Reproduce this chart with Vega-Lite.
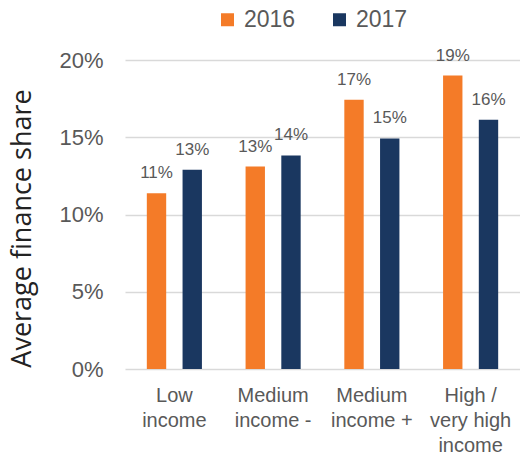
{
  "$schema": "https://vega.github.io/schema/vega-lite/v6.json",
  "autosize": "none",
  "width": 395,
  "height": 309,
  "padding": {"left": 125, "top": 60, "right": 0, "bottom": 86},
  "background": "white",
  "data": {
    "values": [
      {"group": "Low income", "year": "2016", "share": 0.1138},
      {"group": "Low income", "year": "2017", "share": 0.1289},
      {"group": "Medium income -", "year": "2016", "share": 0.131},
      {"group": "Medium income -", "year": "2017", "share": 0.1382},
      {"group": "Medium income +", "year": "2016", "share": 0.1742},
      {"group": "Medium income +", "year": "2017", "share": 0.1492},
      {"group": "High / very high income", "year": "2016", "share": 0.1899},
      {"group": "High / very high income", "year": "2017", "share": 0.1613}
    ]
  },
  "config": {
    "view": {"stroke": null},
    "font": "Liberation Sans"
  },
  "encoding": {
    "x": {
      "field": "group",
      "type": "nominal",
      "sort": null,
      "scale": {"paddingInner": 0.442, "paddingOuter": 0.221},
      "axis": {
        "title": null,
        "labelAngle": 0,
        "domain": false,
        "ticks": false,
        "labelFont": "Liberation Sans",
        "labelFontSize": 20,
        "labelColor": "#595959",
        "labelPadding": 16,
        "labelBaseline": "top",
        "labelLineHeight": 25,
        "labelExpr": "datum.value == 'Low income' ? ['Low', 'income'] : datum.value == 'Medium income -' ? ['Medium', 'income -'] : datum.value == 'Medium income +' ? ['Medium', 'income +'] : ['High /', 'very high', 'income']"
      }
    },
    "xOffset": {
      "field": "year",
      "type": "nominal",
      "scale": {"paddingInner": 0.458}
    }
  },
  "layer": [
    {
      "mark": {"type": "bar"},
      "encoding": {
        "y": {
          "field": "share",
          "type": "quantitative",
          "scale": {"domain": [0, 0.2], "nice": false},
          "axis": {
            "title": "Average finance share",
            "titleFont": "Open Sans",
            "titleFontSize": 27,
            "titleFontWeight": "normal",
            "titleColor": "#222222",
            "titlePadding": 22,
            "titleY": 168,
            "format": ".0%",
            "values": [0, 0.05, 0.1, 0.15, 0.2],
            "domain": false,
            "ticks": false,
            "labelFont": "Liberation Sans",
            "labelFontSize": 22,
            "labelColor": "#595959",
            "labelPadding": 22,
            "gridColor": "#d9d9d9",
            "gridWidth": 1.5
          }
        },
        "color": {
          "field": "year",
          "type": "nominal",
          "scale": {"domain": ["2016", "2017"], "range": ["#F47B28", "#1A3760"]},
          "legend": {
            "title": null,
            "orient": "none",
            "direction": "horizontal",
            "legendX": 91,
            "legendY": -52,
            "symbolType": "square",
            "symbolSize": 169,
            "symbolStrokeWidth": 0,
            "symbolOpacity": 1,
            "labelFont": "Liberation Sans",
            "labelFontSize": 23,
            "labelColor": "#595959",
            "labelOffset": 5,
            "columnPadding": 32
          }
        }
      }
    },
    {
      "mark": {"type": "text", "dy": -15, "baseline": "alphabetic", "fontSize": 17, "color": "#595959", "font": "Liberation Sans"},
      "encoding": {
        "y": {"field": "share", "type": "quantitative"},
        "text": {"field": "share", "type": "quantitative", "format": ".0%"}
      }
    }
  ]
}
